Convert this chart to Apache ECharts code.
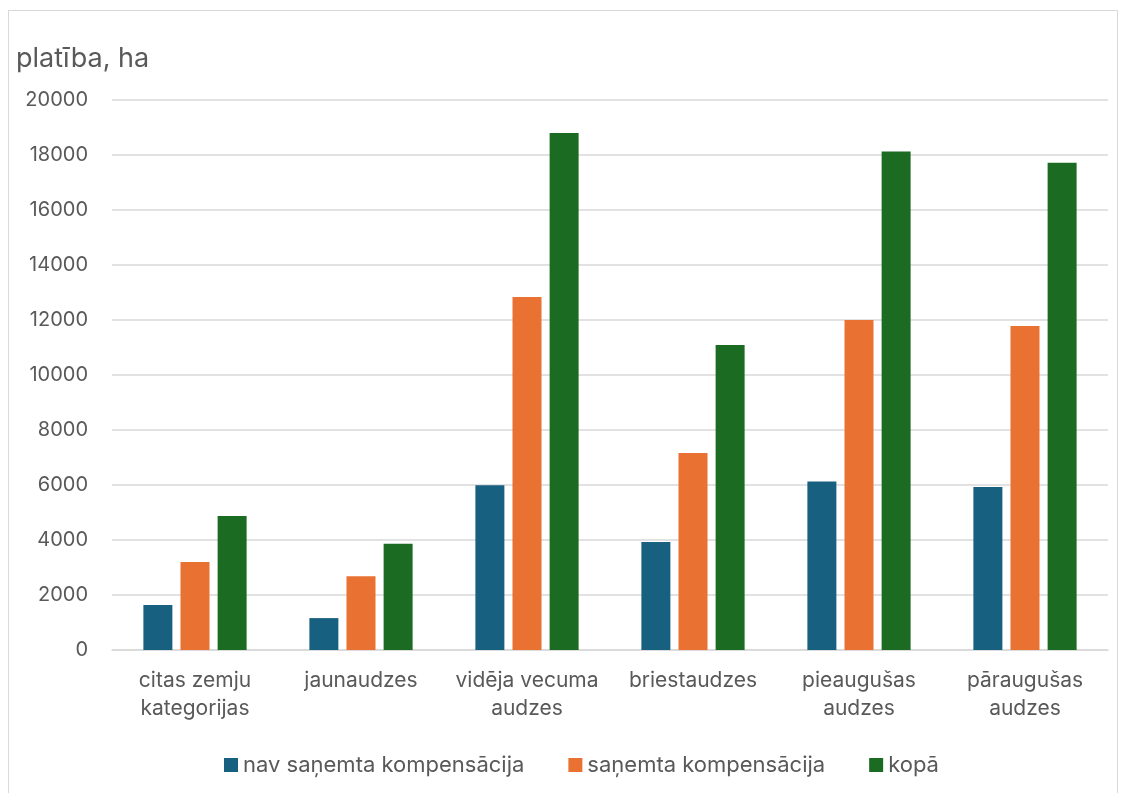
<!DOCTYPE html>
<html>
<head>
<meta charset="utf-8">
<script src="https://cdn.jsdelivr.net/npm/echarts@6/dist/echarts.min.js"></script>
<style>
  html, body { margin: 0; padding: 0; background: #ffffff; }
  #frame { position: absolute; left: 8px; top: 10px; width: 1110px; height: 800px; border: 1.5px solid #d9d9d9; box-sizing: border-box; }
  #chart { position: absolute; left: 0; top: 0; width: 1126px; height: 793px; }
</style>
</head>
<body>
<div id="frame"></div>
<div id="chart"></div>
<script>
// Forest area (ha) by stand age group
const categories = ['citas zemju\nkategorijas', 'jaunaudzes', 'vidēja vecuma\naudzes', 'briestaudzes', 'pieaugušas\naudzes', 'pāraugušas\naudzes'];
const seriesNames = ['nav saņemta kompensācija', 'saņemta kompensācija', 'kopā'];
const notCompensated = [1640, 1160, 5990, 3930, 6130, 5930];
const compensated = [3200, 2680, 12840, 7160, 12000, 11780];
const total = [4870, 3860, 18800, 11090, 18130, 17720];
const yTicks = { min: 0, max: 20000, interval: 2000 };
const colors = ['#17607f', '#e97132', '#1b6b23'];

const font = 'Inter, "Noto Sans", sans-serif';
const textColor = '#595959';

const chart = echarts.init(document.getElementById('chart'));
const values = [notCompensated, compensated, total];
chart.setOption({
  animation: false,
  textStyle: { fontFamily: font },
  title: {
    text: 'platība, ha',
    left: 11, top: 40,
    textStyle: { fontFamily: font, fontSize: 27, fontWeight: 'normal', color: textColor }
  },
  legend: {
    top: 749, left: 219,
    itemWidth: 14, itemHeight: 14, itemGap: 44,
    icon: 'rect',
    textStyle: { fontFamily: font, fontSize: 22, color: textColor },
    data: seriesNames
  },
  grid: { left: 112, right: 18, top: 100, bottom: 143, containLabel: false },
  xAxis: {
    type: 'category',
    data: categories,
    axisLine: { lineStyle: { color: '#d9d9d9', width: 1.5 } },
    axisTick: { show: false },
    axisLabel: { fontFamily: font, fontSize: 21, color: textColor, lineHeight: 28, margin: 17, interval: 0 }
  },
  yAxis: {
    type: 'value',
    min: yTicks.min, max: yTicks.max, interval: yTicks.interval,
    axisLine: { show: false },
    axisTick: { show: false },
    splitLine: { lineStyle: { color: '#d9d9d9', width: 1.5 } },
    axisLabel: { fontFamily: font, fontSize: 20, color: textColor, margin: 24, formatter: v => String(v) }
  },
  series: seriesNames.map((name, i) => ({
    name,
    type: 'bar',
    data: values[i],
    barWidth: 29,
    barGap: '28%',
    itemStyle: { color: colors[i] }
  }))
});
</script>
</body>
</html>
